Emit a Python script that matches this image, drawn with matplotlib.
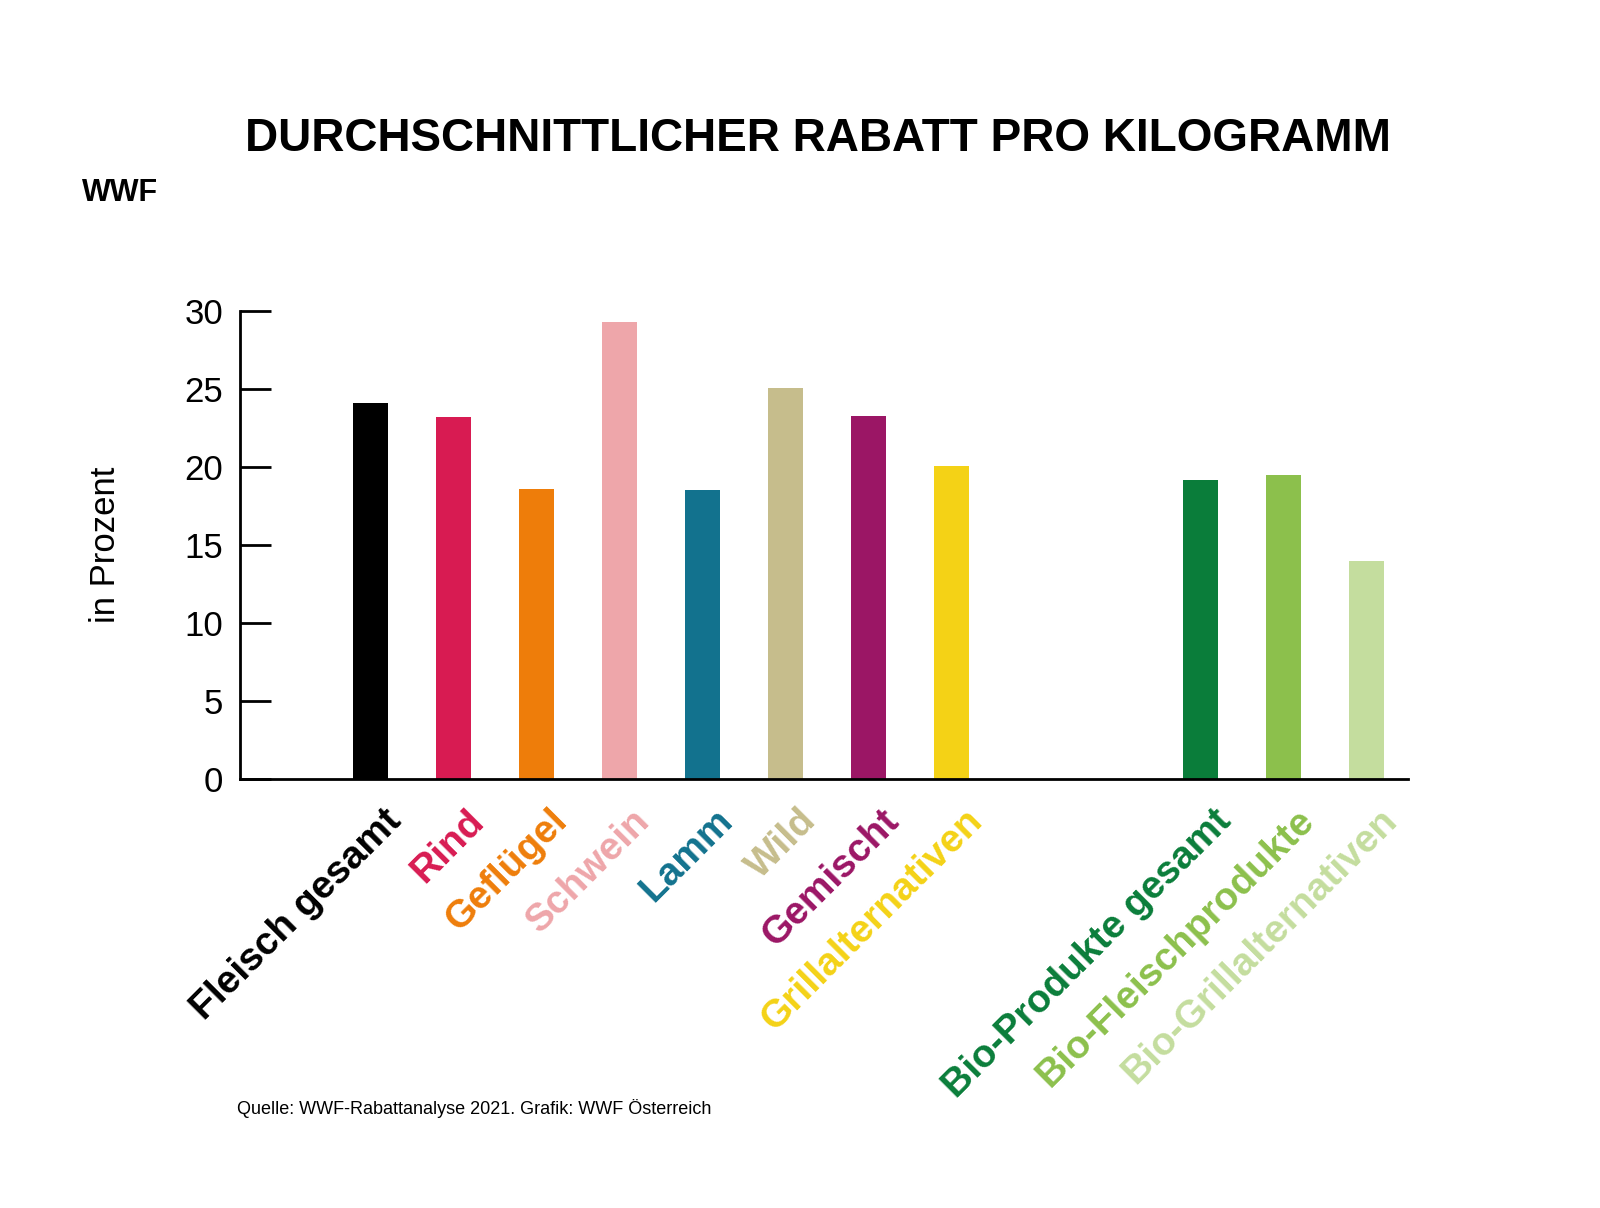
import matplotlib.pyplot as plt

plt.rcParams["font.family"] = ["Liberation Sans", "DejaVu Sans"]

categories = ["Fleisch gesamt", "Rind", "Geflügel", "Schwein", "Lamm", "Wild",
              "Gemischt", "Grillalternativen",
              "Bio-Produkte gesamt", "Bio-Fleischprodukte", "Bio-Grillalternativen"]
values = [24.1, 23.2, 18.6, 29.3, 18.5, 25.1, 23.3, 20.1, 19.2, 19.5, 14.0]
positions = [0, 1, 2, 3, 4, 5, 6, 7, 10, 11, 12]
colors = ["#000000", "#d81b52", "#ee7d0a", "#eea6aa", "#12728e", "#c6bd8c",
          "#9b1665", "#f4d216", "#0a7d3a", "#8cc04c", "#c4dd9e"]

fig = plt.figure(figsize=(16, 12.08), dpi=100)
ax = fig.add_axes([0.15, 0.355, 0.73, 0.3875])
ax.bar(positions, values, width=0.42, color=colors)
ax.set_xlim(-1.57, 12.5)
ax.set_ylim(0, 30)
ax.set_yticks(range(0, 31, 5))
ax.tick_params(axis="y", direction="in", length=22, width=2, labelsize=25, pad=12)
ax.tick_params(axis="x", length=0)
ax.set_xticks([])
for s in ["top", "right"]:
    ax.spines[s].set_visible(False)
for s in ["left", "bottom"]:
    ax.spines[s].set_linewidth(2)
ax.set_ylabel("in Prozent", fontsize=25, labelpad=45)

for p, c, col in zip(positions, categories, colors):
    ax.text(p + 0.15, -1.5, c, rotation=45, ha="right", va="top",
            rotation_mode="anchor", fontsize=28, fontweight="bold", color=col)

fig.text(0.153, 0.885, "DURCHSCHNITTLICHER RABATT PRO KILOGRAMM",
         fontsize=33, fontweight="bold", va="center", ha="left")
fig.text(0.075, 0.84, "WWF", fontsize=22, fontweight="bold", ha="center", va="center")
fig.text(0.148, 0.082, "Quelle: WWF-Rabattanalyse 2021. Grafik: WWF Österreich",
         fontsize=13, ha="left", va="center")
fig.savefig("out.png", dpi=100, facecolor="white")
